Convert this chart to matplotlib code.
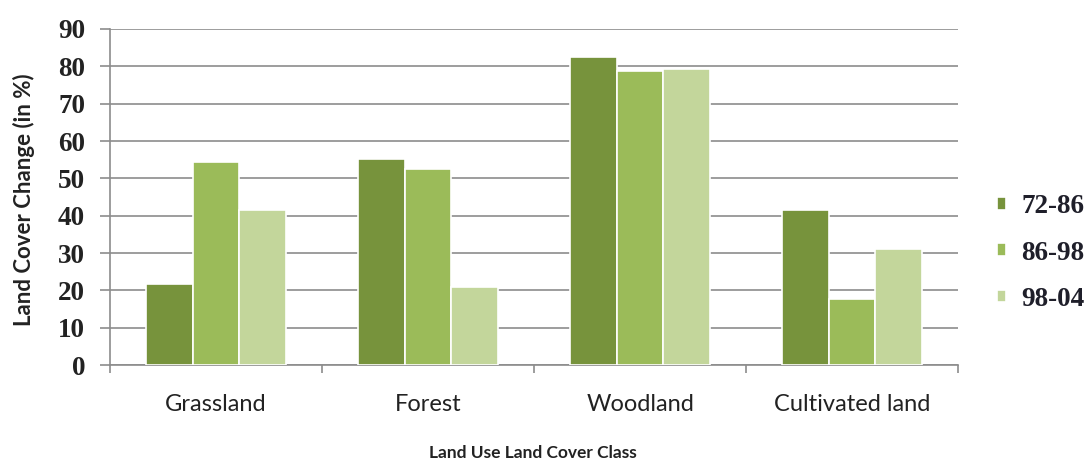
import numpy as np
import matplotlib.pyplot as plt

classes = ["Grassland", "Forest", "Woodland", "Cultivated land"]
periods = ["72-86", "86-98", "98-04"]
change_72_86 = [21.6, 55.1, 82.4, 41.5]
change_86_98 = [54.3, 52.4, 78.8, 17.7]
change_98_04 = [41.5, 20.8, 79.4, 31.0]
colors = ["#77933C", "#9BBB59", "#C3D69B"]

sans = ["Lato", "DejaVu Sans"]
serif = ["Liberation Serif", "DejaVu Serif"]

fig = plt.figure(figsize=(10.9, 4.67), dpi=100)
ax = fig.add_axes([0.101, 0.218, 0.778, 0.720])

x = np.arange(len(classes))
width = 0.22
series = [change_72_86, change_86_98, change_98_04]
handles = []
for i, vals in enumerate(series):
    b = ax.bar(x + (i - 1) * width, vals, width, color=colors[i],
               edgecolor="white", linewidth=1.2, zorder=3, label=periods[i])
    handles.append(b)

ax.set_xlim(-0.5, 3.5)
ax.set_ylim(0, 90)
ax.set_yticks(np.arange(0, 91, 10))
ax.yaxis.grid(True, color="#8c8c8c", linewidth=1.2, zorder=0)
ax.set_axisbelow(True)

for s in ["top", "right"]:
    ax.spines[s].set_visible(False)
for s in ["left", "bottom"]:
    ax.spines[s].set_color("#8c8c8c")
    ax.spines[s].set_linewidth(1.2)

ax.set_xticks(x)
ax.set_xticklabels(classes, fontfamily=sans, fontsize=17, color="#222222")
ax.set_xticks(np.arange(-0.5, 3.6, 1), minor=True)
ax.tick_params(axis="x", which="major", length=0, pad=21)
ax.tick_params(axis="x", which="minor", length=6, color="#8c8c8c", width=1.2)
ax.tick_params(axis="y", length=7, color="#8c8c8c", width=1.2, pad=11)
for lbl in ax.get_yticklabels():
    lbl.set_fontfamily(serif)
    lbl.set_fontsize(19.5)
    lbl.set_fontweight("bold")
    lbl.set_color("#222222")

fig.text(24 / 1090, 0.572, "Land Cover Change (in %)", rotation=90,
         ha="center", va="center", fontfamily=sans, fontsize=16,
         fontweight="bold", color="#222222")
fig.text(0.489, 0.030, "Land Use Land Cover Class", ha="center", va="center",
         fontfamily=sans, fontsize=12.5, fontweight="bold", color="#222222")

leg = fig.legend(handles=handles, loc="center left",
                 bbox_to_anchor=(997 / 1090, 0.458),
                 frameon=False, handlelength=0.35, handleheight=0.35,
                 handletextpad=0.55, labelspacing=0.78,
                 borderpad=0, borderaxespad=0,
                 prop={"family": serif, "size": 19.5, "weight": "bold"})
for t in leg.get_texts():
    t.set_color("#1f1f2a")

fig.savefig("out.png", dpi=100)
